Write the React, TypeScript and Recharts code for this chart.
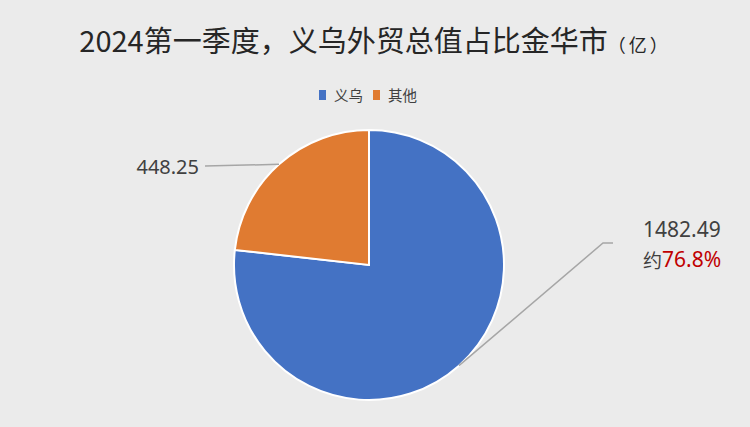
import React from "react";
import { PieChart, Pie, Cell, Legend } from "recharts";

const categories = ["义乌", "其他"];
const values = [1482.49, 448.25];
const valueLabels = ["1482.49", "448.25"];
const shareLabel = "76.8%";
const colors = ["#4472C4", "#E07B31"];

const data = categories.map((name, i) => ({ name, value: values[i] }));

const RAD = Math.PI / 180;

const renderLabel = (props: any) => {
  const { cx, cy, midAngle, outerRadius, index } = props;
  const sx = cx + outerRadius * Math.cos(-midAngle * RAD);
  const sy = cy + outerRadius * Math.sin(-midAngle * RAD);
  if (index === 0) {
    const ex = cx + 234;
    const ey = cy - 22;
    return (
      <g>
        <polyline
          points={`${sx},${sy} ${ex},${ey} ${ex + 10},${ey}`}
          fill="none"
          stroke="#a6a6a6"
          strokeWidth={1.5}
        />
        <text x={ex + 40} y={ey - 14} fill="#404040" fontSize={21} fontFamily="'Noto Sans', sans-serif" dominantBaseline="central">
          {valueLabels[0]}
        </text>
        <text x={ex + 40} y={ey + 16} fontSize={21} fontFamily="'Noto Sans', 'Noto Sans CJK SC', sans-serif" dominantBaseline="central">
          <tspan fill="#404040" fontFamily="'Noto Sans CJK SC', sans-serif" fontSize={19}>约</tspan>
          <tspan fill="#C00000">{shareLabel}</tspan>
        </text>
      </g>
    );
  }
  const ex = cx - 164;
  const ey = cy - 99;
  return (
    <g>
      <line x1={sx} y1={sy} x2={ex} y2={ey} stroke="#a6a6a6" strokeWidth={1.5} />
      <text x={ex - 6} y={ey} textAnchor="end" fill="#404040" fontSize={20} fontFamily="'Noto Sans', sans-serif" dominantBaseline="central">
        {valueLabels[1]}
      </text>
    </g>
  );
};

const renderLegend = (props: any) => {
  const { payload } = props;
  return (
    <div style={{ display: "flex", justifyContent: "center", alignItems: "center", gap: 10, paddingRight: 14, fontFamily: "'Noto Sans CJK SC', sans-serif", fontSize: 14.5, color: "#404040" }}>
      {payload.map((p: any, i: number) => (
        <div key={i} style={{ display: "flex", alignItems: "center", gap: 8 }}>
          <span style={{ display: "inline-block", width: 7, height: 10, background: p.color }} />
          <span>{p.value}</span>
        </div>
      ))}
    </div>
  );
};

export default function App() {
  return (
    <div style={{ position: "absolute", left: 0, top: 0, width: 750, height: 427, background: "#ebebeb", overflow: "hidden" }}>
      <div style={{ position: "absolute", top: 19, left: 0, width: 750, textAlign: "center", fontFamily: "'Noto Sans CJK SC', sans-serif", fontSize: 29, fontWeight: 400, color: "#262626", lineHeight: "40px", whiteSpace: "nowrap" }}>
        2024第一季度，义乌外贸总值占比金华市<span style={{ fontSize: 18, letterSpacing: 3 }}>（亿）</span>
      </div>
      <PieChart width={750} height={427}>
        <Legend verticalAlign="top" align="center" content={renderLegend} wrapperStyle={{ top: 84, left: 0, width: 750 }} />
        <Pie
          data={data}
          dataKey="value"
          nameKey="name"
          cx={364}
          cy={239}
          outerRadius={135}
          startAngle={90}
          endAngle={-270}
          stroke="#ffffff"
          strokeWidth={2}
          label={renderLabel}
          labelLine={false}
          isAnimationActive={false}
        >
          {data.map((d, i) => (
            <Cell key={d.name} fill={colors[i]} />
          ))}
        </Pie>
      </PieChart>
    </div>
  );
}
